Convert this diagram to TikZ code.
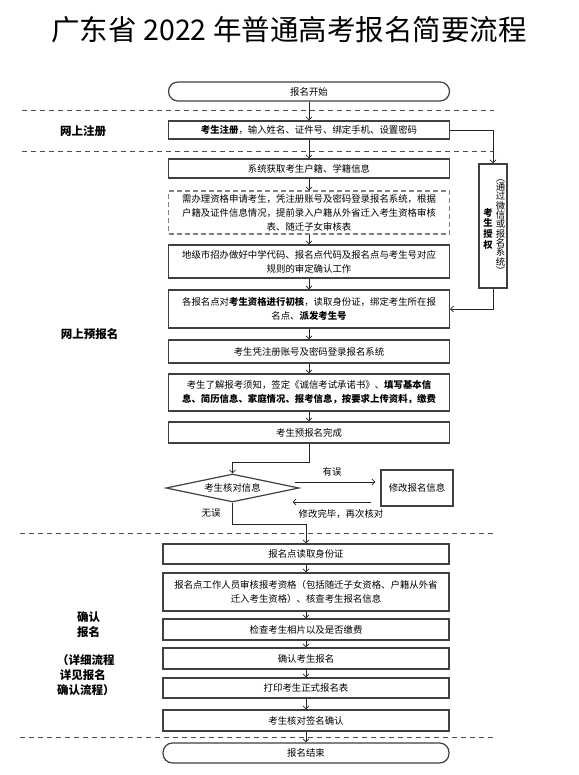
\documentclass[tikz,border=0pt]{standalone}
\usepackage{fontspec}
\setmainfont{Noto Sans CJK SC}
\usetikzlibrary{shapes.geometric,arrows.meta}
\begin{document}
\begin{tikzpicture}[x=1pt,y=-1pt,
  txt/.style={font=\fontsize{9.4}{14}\selectfont, align=center, inner sep=0pt},
  box/.style={txt, draw=black!75, line width=1.2pt, fill=white, minimum width=281pt},
  lowbox/.style={box, minimum width=286pt},
  dashbox/.style={box, draw=black!50, dash pattern=on 5pt off 3pt},
  term/.style={box, rounded corners=9.5pt},
  side/.style={font=\fontsize{11.5}{15}\selectfont\bfseries, inner sep=0pt},
  arr/.style={draw=black!85, line width=0.8pt, -{Straight Barb[length=3pt,width=6pt]}},
  sep/.style={draw=black!70, line width=0.8pt, dash pattern=on 5pt off 4pt}]
\useasboundingbox (0,0) rectangle (578,775);
\node[font=\fontsize{28.5}{30}\selectfont] (title) at (289,30) {广东省 2022 年普通高考报名简要流程};
% separators
\draw[sep] (22,110)--(494,110);
\draw[sep] (22,151)--(494,151);
\draw[sep] (20,533)--(493,533);
\draw[sep] (20,737)--(493,737);
% section names
\node[side] (sreg) at (83,131) {网上注册};
\node[side] (spre) at (89.5,334) {网上预报名};
\node[side, align=center] (sconf) at (88.5,624.5) {确认\\报名};
\node[side, align=left, anchor=west] (sdet) at (57,675) {（详细流程\\\ 详见报名\\确认流程）};
% upper flow
\node[term, minimum height=19pt] (start) at (309,91.5) {报名开始};
\node[box, minimum height=18pt] (reg) at (309,130) {\textbf{考生注册}，输入姓名、证件号、绑定手机、设置密码};
\node[box, minimum height=19pt] (sys) at (309,168.5) {系统获取考生户籍、学籍信息};
\node[dashbox, minimum height=43pt] (apply) at (309,212.5) {需办理资格申请考生，凭注册账号及密码登录报名系统，根据\\户籍及证件信息情况，提前录入户籍从外省迁入考生资格审核\\表、随迁子女审核表};
\node[box, minimum height=33pt] (city) at (309,261.5) {地级市招办做好中学代码、报名点代码及报名点与考生号对应\\规则的审定确认工作};
\node[box, minimum height=38pt] (check) at (309,309) {各报名点对\textbf{考生资格进行初核}，读取身份证，绑定考生所在报\\名点、\textbf{派发考生号}};
\node[box, minimum height=23pt] (login) at (309,351.5) {考生凭注册账号及密码登录报名系统};
\node[box, minimum height=37pt] (fill) at (309,392.5) {考生了解报考须知，签定《诚信考试承诺书》、\textbf{填写基本信}\\\textbf{息、简历信息、家庭情况、报考信息，按要求上传资料，缴费}};
\node[box, minimum height=21pt] (done) at (309,432.5) {考生预报名完成};
% side box, text set upright in columns
\node[box, minimum width=28pt, minimum height=124pt] (auth) at (493,226) {};
\node[txt, font=\fontsize{9.4}{10.7}\selectfont\bfseries] (authA) at ([xshift=-5pt,yshift=-2.5pt]auth.center) {考\\生\\授\\权};
\node[txt, font=\fontsize{9.4}{9.3}\selectfont] (authB) at ([xshift=7.5pt,yshift=-1pt]auth.center) {︵\\通\\过\\微\\信\\或\\报\\名\\系\\统\\︶};
% check loop
\node[txt, draw=black!75, line width=1.2pt, shape=diamond, aspect=4.75, minimum width=133pt, minimum height=28pt] (dia) at (232.5,488) {考生核对信息};
\node[box, minimum width=72pt, minimum height=36pt] (modify) at (417,488) {修改报名信息};
\node[txt] (err) at (332,472) {有误};
\node[txt] (back) at (341,514) {修改完毕，再次核对};
\node[txt] (ok) at (211,513) {无误};
% lower flow
\node[lowbox, minimum height=20pt] (readid) at (306,554) {报名点读取身份证};
\node[lowbox, minimum height=38pt] (staff) at (306,592) {报名点工作人员审核报考资格（包括随迁子女资格、户籍从外省\\迁入考生资格）、核查考生报名信息};
\node[lowbox, minimum height=21pt] (photo) at (306,629.5) {检查考生相片以及是否缴费};
\node[lowbox, minimum height=21pt] (conf) at (306,658.5) {确认考生报名};
\node[lowbox, minimum height=20pt] (print) at (306,688) {打印考生正式报名表};
\node[lowbox, minimum height=21pt] (sign) at (306,720.5) {考生核对签名确认};
\node[term, minimum width=286pt, minimum height=20pt] (stop) at (306,753) {报名结束};
% connectors
\draw[arr] (start)--(reg);
\draw[arr] (reg)--(sys);
\draw[arr] (sys)--(apply);
\draw[arr] (apply)--(city);
\draw[arr] (city)--(check);
\draw[arr] (check)--(login);
\draw[arr] (login)--(fill);
\draw[arr] (fill)--(done);
\draw[arr] (reg.east)--(auth.north |- reg.east)--(auth.north);
\draw[arr] (auth.south)--(auth.south |- check.east)--(check.east);
\draw[arr] (done.south)--++(0,19)-|(dia.north);
\draw[arr] ([xshift=-5pt,yshift=6pt]dia.east)--([xshift=-5pt,yshift=6pt]modify.west);
\draw[arr] ([xshift=-9pt,yshift=-14pt]modify.west)--([xshift=-7pt,yshift=-14pt]dia.east);
\draw[arr] (dia.south)--++(0,22)-|(readid.north);
\draw[arr] (readid)--(staff);
\draw[arr] (staff)--(photo);
\draw[arr] (photo)--(conf);
\draw[arr] (conf)--(print);
\draw[arr] (print)--(sign);
\draw[arr] (sign)--(stop);
\end{tikzpicture}
\end{document}
